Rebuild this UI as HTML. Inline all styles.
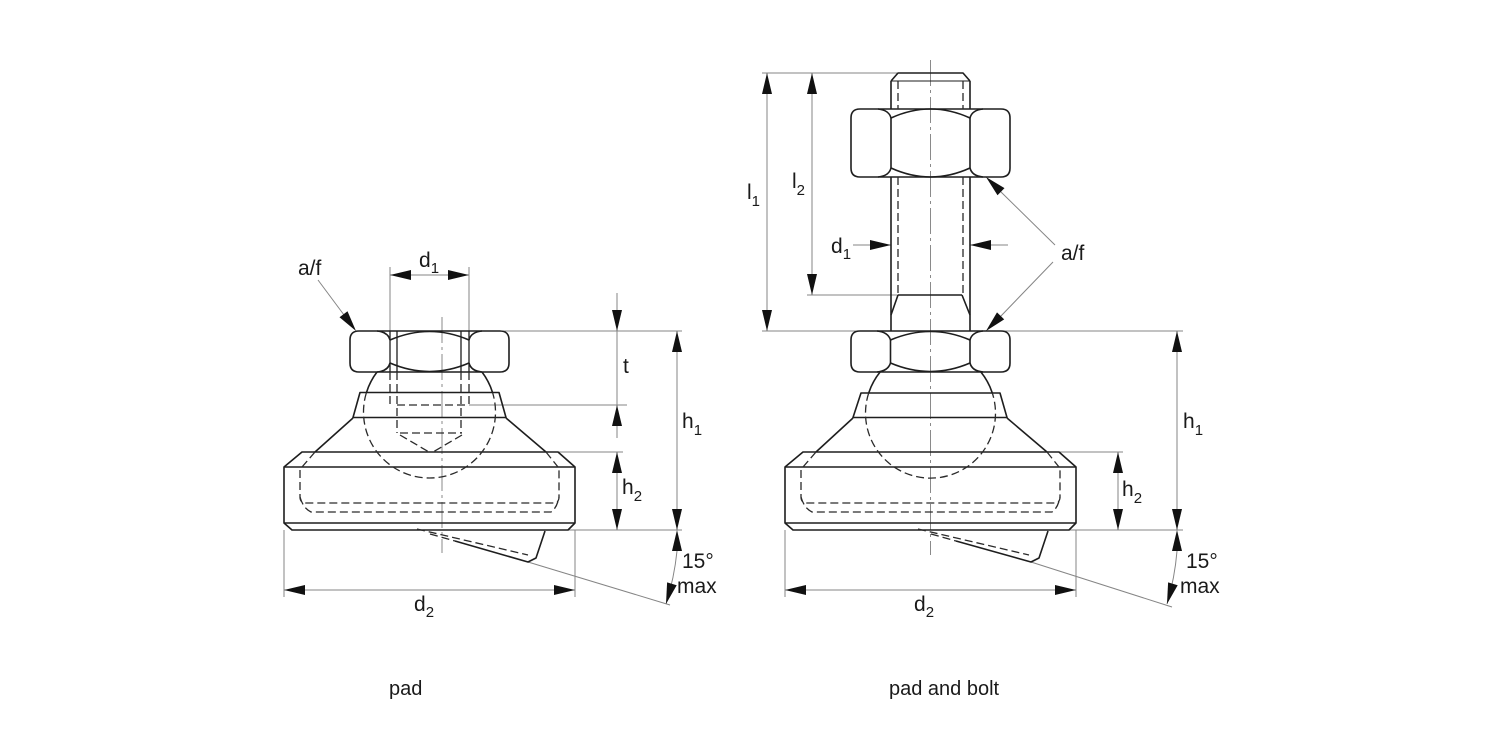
<!DOCTYPE html>
<html>
<head>
<meta charset="utf-8">
<style>
  html, body { margin: 0; padding: 0; background: #ffffff; }
  svg { display: block; }
  text { font-family: "Liberation Sans", Arial, sans-serif; fill: #1a1a1a; }
</style>
</head>
<body>
<svg width="1500" height="750" viewBox="0 0 1500 750" xmlns="http://www.w3.org/2000/svg">
  <rect x="0" y="0" width="1500" height="750" fill="#ffffff"/>

  <!-- ================= LEFT DRAWING: pad ================= -->
  <!-- thin dimension / extension lines -->
  <g stroke="#858585" stroke-width="1" fill="none">
    <!-- d1 -->
    <path d="M390,267 L390,331 M469,267 L469,331 M390,275 L469,275"/>
    <!-- a/f leader -->
    <path d="M318,280 L350,323"/>
    <!-- extension lines -->
    <path d="M500,331 L682,331"/>
    <path d="M469,405 L627,405"/>
    <path d="M558,452 L623,452"/>
    <path d="M568,530 L682,530"/>
    <!-- t -->
    <path d="M617,293 L617,438"/>
    <!-- h1 -->
    <path d="M677,331 L677,530"/>
    <!-- h2 -->
    <path d="M617,452 L617,530"/>
    <!-- d2 -->
    <path d="M284,530 L284,597 M575,530 L575,597 M284,590 L575,590"/>
    <!-- 15 deg line and arc -->
    <path d="M528,562 L670,605"/>
    <path d="M677,551 A262,262 0 0,1 666,604"/>
  </g>
  <!-- center line -->
  <path d="M442,317 L442,553" stroke="#8a8a8a" stroke-width="1" stroke-dasharray="26 4 3 4" fill="none"/>

  <!-- solid outlines -->
  <g stroke="#1e1e1e" stroke-width="1.6" fill="none" stroke-linejoin="round">
    <!-- nut -->
    <path d="M359,331 L500,331 Q509,331 509,340 L509,363 Q509,372 500,372 L359,372 Q350,372 350,363 L350,340 Q350,331 359,331 Z"/>
    <path d="M377,331 Q388,332 390,340 M390,340 Q429.5,323 469,340 M469,340 Q471,332 482,331"/>
    <path d="M377,372 Q388,371 390,363 M390,363 Q429.5,380 469,363 M469,363 Q471,371 482,372"/>
    <path d="M390,331 L390,372 M469,331 L469,372 M397,331 L397,372 M461,331 L461,372" stroke-width="1.3"/>
    <!-- sphere visible arcs -->
    <path d="M377,372 A66,66 0 0,0 366.3,393"/>
    <path d="M482,372 A66,66 0 0,1 492.7,393"/>
    <!-- collar -->
    <path d="M360,392.5 L499,392.5 L506,417.5 L353,417.5 Z"/>
    <!-- cone -->
    <path d="M353,418 L315,452 M506,418 L546,452"/>
    <!-- base plate -->
    <path d="M302,452 L558,452 L575,467 L575,523 L568,530 L292,530 L284,523 L284,467 Z"/>
    <path d="M284,467 L575,467 M284,523 L575,523"/>
    <!-- tilted pad -->
    <path d="M455,541 L528,562 L536,558 L545,531"/>
  </g>

  <!-- hidden (dashed) lines -->
  <g stroke="#2a2a2a" stroke-width="1.3" fill="none" stroke-dasharray="8 4">
    <path d="M366.3,393 A66,66 0 1,0 492.7,393"/>
    <path d="M390,372 L390,405 M469,372 L469,405 M397,372 L397,433 M461,372 L461,433"/>
    <path d="M397,405 L469,405"/>
    <path d="M400,433 L462,433"/>
    <path d="M400,435 L429,452 M462,435 L433,452"/>
    <path d="M315,452 L302,467 M546,452 L558,467"/>
    <path d="M300,470 L300,497 Q300,503 306,503 L553,503 Q559,503 559,497 L559,470"/>
    <path d="M300,497 Q303,508 311,512 L551,512 Q557,508 559,497"/>
    <path d="M417,529 L528,555"/>
    <path d="M430,534 L455,541"/>
  </g>

  <!-- arrowheads -->
  <g fill="#111111" stroke="none">
    <polygon points="390,275 411,270 411,280"/>
    <polygon points="469,275 448,270 448,280"/>
    <polygon points="356,331 347.5,311.2 339.5,317.2"/>
    <polygon points="617,331 612,310 622,310"/>
    <polygon points="617,405 612,426 622,426"/>
    <polygon points="677,331 672,352 682,352"/>
    <polygon points="677,530 672,509 682,509"/>
    <polygon points="617,452 612,473 622,473"/>
    <polygon points="617,530 612,509 622,509"/>
    <polygon points="677,530 672,551 682,551"/>
    <polygon points="666,604 676.7,585.2 667.1,582.4"/>
    <polygon points="284,590 305,585 305,595"/>
    <polygon points="575,590 554,585 554,595"/>
  </g>

  <!-- labels -->
  <g font-size="21">
    <text x="298" y="275">a/f</text>
    <text x="419" y="267">d<tspan font-size="15" dy="6">1</tspan></text>
    <text x="623" y="373">t</text>
    <text x="682" y="428">h<tspan font-size="15" dy="7">1</tspan></text>
    <text x="622" y="494">h<tspan font-size="15" dy="7">2</tspan></text>
    <text x="682" y="568">15°</text>
    <text x="677" y="593">max</text>
    <text x="414" y="611">d<tspan font-size="15" dy="6">2</tspan></text>
    <text x="389" y="695" font-size="20">pad</text>
  </g>

  <!-- ================= RIGHT DRAWING: pad and bolt ================= -->
  <g stroke="#858585" stroke-width="1" fill="none">
    <!-- l1, l2 -->
    <path d="M762,73 L897,73"/>
    <path d="M767,73 L767,331"/>
    <path d="M812,73 L812,295"/>
    <path d="M807,295 L898,295"/>
    <path d="M762,331 L1183,331"/>
    <!-- d1 -->
    <path d="M853,245 L891,245 M970,245 L1008,245"/>
    <!-- a/f leaders -->
    <path d="M1055,245 L1000,191 M1053,262 L1000,317"/>
    <!-- h1 h2 -->
    <path d="M1177,331 L1177,530"/>
    <path d="M1059,452 L1123,452"/>
    <path d="M1118,452 L1118,530"/>
    <path d="M1069,530 L1183,530"/>
    <!-- d2 -->
    <path d="M785,530 L785,597 M1076,530 L1076,597 M785,590 L1076,590"/>
    <!-- 15 deg -->
    <path d="M1031,562 L1172,607"/>
    <path d="M1177,551 A258,258 0 0,1 1167,604"/>
  </g>
  <path d="M930.5,60 L930.5,555" stroke="#8a8a8a" stroke-width="1" stroke-dasharray="26 4 3 4" fill="none"/>

  <g stroke="#1e1e1e" stroke-width="1.6" fill="none" stroke-linejoin="round">
    <!-- bolt -->
    <path d="M891,81 L898,73 L963,73 L970,81"/>
    <path d="M891,81 L970,81" stroke-width="1"/>
    <path d="M891,81 L891,109 M970,81 L970,109"/>
    <path d="M891,177 L891,331 M970,177 L970,331"/>
    <path d="M898,295 L962,295 M898,295 L891,315 M962,295 L970,315"/>
    <!-- top nut -->
    <path d="M860,109 L1001,109 Q1010,109 1010,118 L1010,168 Q1010,177 1001,177 L860,177 Q851,177 851,168 L851,118 Q851,109 860,109 Z"/>
    <path d="M891,118 L891,168 M970,118 L970,168"/>
    <path d="M878,109 Q889,110 891,118 M891,118 Q930.5,100 970,118 M970,118 Q972,110 983,109"/>
    <path d="M878,177 Q889,176 891,168 M891,168 Q930.5,186 970,168 M970,168 Q972,176 983,177"/>
    <!-- lower nut -->
    <path d="M860,331 L1001,331 Q1010,331 1010,340 L1010,363 Q1010,372 1001,372 L860,372 Q851,372 851,363 L851,340 Q851,331 860,331 Z"/>
    <path d="M890.5,340 L890.5,363 M970,340 L970,363"/>
    <path d="M877,331 Q888,332 890.5,340 M890.5,340 Q930.5,323 970,340 M970,340 Q972,332 983,331"/>
    <path d="M877,372 Q888,371 890.5,363 M890.5,363 Q930.5,380 970,363 M970,363 Q972,371 983,372"/>
    <!-- sphere visible arcs -->
    <path d="M880.1,372 A65,65 0 0,0 868.7,393"/>
    <path d="M980.9,372 A65,65 0 0,1 992.3,393"/>
    <!-- collar -->
    <path d="M861,393 L1000,393 L1007,417.5 L853,417.5 Z"/>
    <!-- cone -->
    <path d="M853,418 L816,452 M1007,418 L1047,452"/>
    <!-- base plate -->
    <path d="M803,452 L1059,452 L1076,467 L1076,523 L1069,530 L793,530 L785,523 L785,467 Z"/>
    <path d="M785,467 L1076,467 M785,523 L1076,523"/>
    <!-- tilted pad -->
    <path d="M956,541 L1031,562 L1039,558 L1048,531"/>
  </g>

  <g stroke="#2a2a2a" stroke-width="1.3" fill="none" stroke-dasharray="8 4">
    <path d="M898,81 L898,109 M963,81 L963,109"/>
    <path d="M898,177 L898,295 M963,177 L963,295"/>
    <path d="M868.7,393 A65,65 0 1,0 992.3,393"/>
    <path d="M816,452 L803,467 M1047,452 L1059,467"/>
    <path d="M801,470 L801,497 Q801,503 807,503 L1054,503 Q1060,503 1060,497 L1060,470"/>
    <path d="M801,497 Q804,508 812,512 L1052,512 Q1058,508 1060,497"/>
    <path d="M918,529 L1029,555"/>
    <path d="M931,534 L956,541"/>
  </g>

  <g fill="#111111" stroke="none">
    <polygon points="767,73 762,94 772,94"/>
    <polygon points="767,331 762,310 772,310"/>
    <polygon points="812,73 807,94 817,94"/>
    <polygon points="812,295 807,274 817,274"/>
    <polygon points="891,245 870,240 870,250"/>
    <polygon points="970,245 991,240 991,250"/>
    <polygon points="986,177 1004.5,188.1 997.5,195.3"/>
    <polygon points="986,331 1004.2,319.4 997,312.4"/>
    <polygon points="1177,331 1172,352 1182,352"/>
    <polygon points="1177,530 1172,509 1182,509"/>
    <polygon points="1118,452 1113,473 1123,473"/>
    <polygon points="1118,530 1113,509 1123,509"/>
    <polygon points="1177,530 1172,551 1182,551"/>
    <polygon points="1167,604 1177.7,585.2 1168.1,582.4"/>
    <polygon points="785,590 806,585 806,595"/>
    <polygon points="1076,590 1055,585 1055,595"/>
  </g>

  <g font-size="21">
    <text x="747" y="199">l<tspan font-size="15" dy="7">1</tspan></text>
    <text x="792" y="188">l<tspan font-size="15" dy="7">2</tspan></text>
    <text x="831" y="253">d<tspan font-size="15" dy="6">1</tspan></text>
    <text x="1061" y="260">a/f</text>
    <text x="1183" y="428">h<tspan font-size="15" dy="7">1</tspan></text>
    <text x="1122" y="496">h<tspan font-size="15" dy="7">2</tspan></text>
    <text x="1186" y="568">15°</text>
    <text x="1180" y="593">max</text>
    <text x="914" y="611">d<tspan font-size="15" dy="6">2</tspan></text>
    <text x="889" y="695" font-size="20">pad and bolt</text>
  </g>
</svg>
</body>
</html>
